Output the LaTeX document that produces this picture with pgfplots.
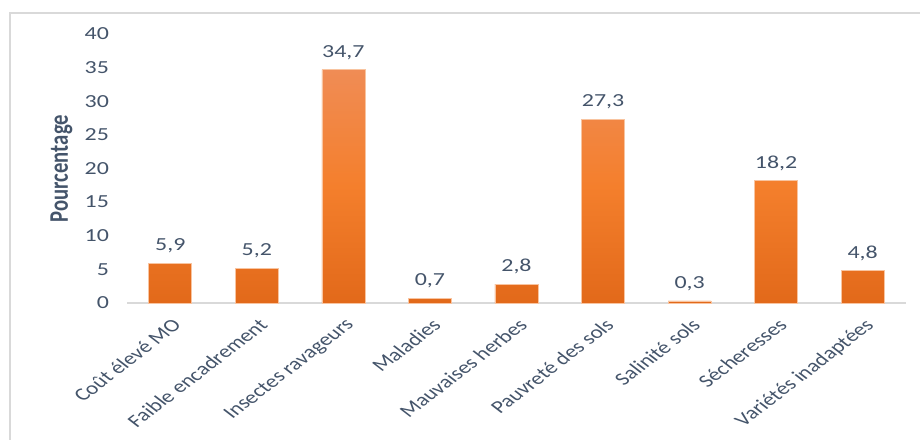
\documentclass[border=0pt]{standalone}
\usepackage{pgfplots}
\pgfplotsset{compat=1.18}
\usepackage{fontspec}
\setmainfont{Carlito}
\newfontfamily\numfont[FakeStretch=1.3]{Carlito}
\newfontfamily\catfont{Carlito}
\definecolor{textGray}{HTML}{44546A}
\definecolor{lineGray}{HTML}{D9D9D9}
\definecolor{barTop}{HTML}{F08C55}
\definecolor{barMid}{HTML}{F47F2C}
\definecolor{barBot}{HTML}{E2691A}
\definecolor{barEdge}{HTML}{F8C4A0}
\pgfplotstableread{
x y
0 5.9
1 5.2
2 34.7
3 0.7
4 2.8
5 27.3
6 0.3
7 18.2
8 4.8
}\datatable
\begin{document}
\begin{tikzpicture}
\useasboundingbox (0,0) rectangle (690pt,329.25pt);
\draw[lineGray, line width=1.5pt] (7.5pt,-20pt) rectangle (710pt,319.5pt);
\begin{axis}[
  at={(95.25pt,102pt)}, anchor=south west,
  scale only axis, width=584.25pt, height=201.75pt,
  xmin=-0.5, xmax=8.5, ymin=0, ymax=40,
  ytick={0,5,...,40},
  xtick=data,
  xticklabels={Coût élevé MO,Faible encadrement,Insectes ravageurs,Maladies,Mauvaises herbes,Pauvreté des sols,Salinité sols,Sécheresses,Variétés inadaptées},
  axis x line=bottom, axis y line=left,
  x axis line style={-, draw=lineGray, line width=1.5pt},
  y axis line style={draw=none},
  major tick length=0pt,
  /pgf/number format/assume math mode=true,
  yticklabel style={font=\numfont\fontsize{13.8}{15}\selectfont, text=textGray, xshift=-10pt},
  xticklabel style={font=\catfont\fontsize{13.4}{15}\selectfont, text=textGray, xshift=0.5pt, yshift=-6pt, cm={0.919,0.707,-0.919,0.707,(0,0)}, anchor=north east},
  ylabel={Pourcentage},
  every axis y label/.style={at={(ticklabel cs:0.5)}, cm={0,1,-1.3,0,(0,0)}, anchor=south, font=\catfont\bfseries\fontsize{15.5}{17}\selectfont, text=textGray, yshift=1pt},
  ybar, bar width=32.25pt,
  nodes near coords={\pgfmathprintnumber[fixed,fixed zerofill,precision=1,use comma,assume math mode=true]{\pgfplotspointmeta}},
  nodes near coords style={font=\numfont\fontsize{13.8}{15}\selectfont, text=textGray, yshift=4pt},
  clip=false,
]
\addplot[draw=barEdge, line width=0.5pt, top color=barTop, bottom color=barBot, middle color=barMid] table[x=x,y=y] {\datatable};
\end{axis}
\end{tikzpicture}
\end{document}
